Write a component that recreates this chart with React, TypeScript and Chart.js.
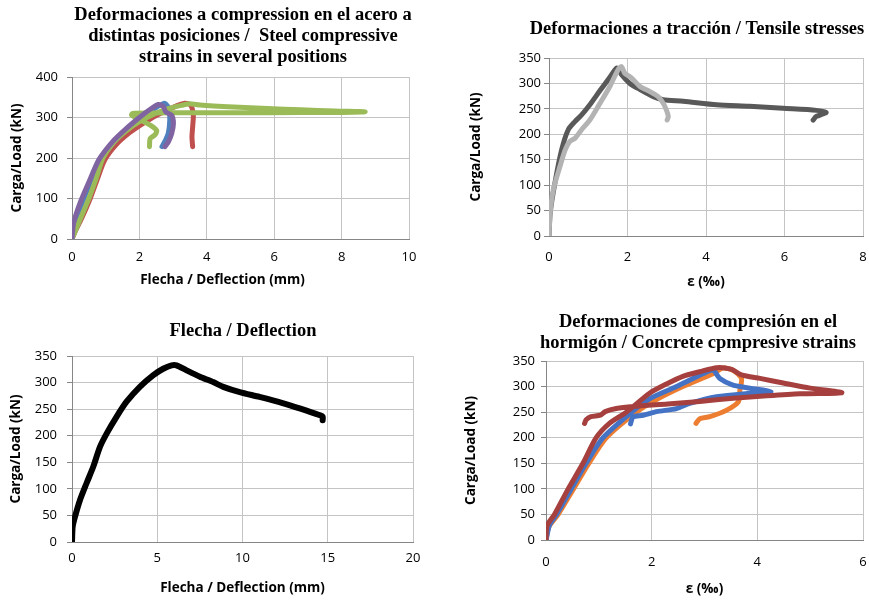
import React, { useEffect, useRef } from "react";
import { Chart, registerables } from "chart.js";

Chart.register(...registerables);

// ---------- Panel 1: steel compressive strains vs deflection ----------
const p1BlueX = [0, 0.05, 0.28, 0.55, 0.85, 1.25, 1.65, 2.05, 2.45, 2.75, 2.88, 2.9, 2.86, 2.78, 2.67];
const p1BlueY = [0, 35, 85, 140, 195, 240, 272, 300, 322, 335, 320, 292, 262, 245, 228];
const p1RedX = [0, 0.1, 0.28, 0.54, 0.76, 0.97, 1.3, 1.7, 2.1, 2.5, 3.0, 3.35, 3.52, 3.6, 3.58, 3.56, 3.58];
const p1RedY = [0, 20, 50, 100, 150, 195, 232, 262, 285, 305, 325, 335, 331, 306, 277, 252, 228];
const p1GreenX = [0, 0.1, 0.25, 0.5, 0.72, 0.92, 1.25, 1.62, 2.0, 2.4, 2.85, 3.3, 3.5, 3.8, 4.8, 5.8, 6.8, 7.8, 8.7, 7.8, 5.8, 3.8, 2.3, 1.8, 1.77, 2.02, 2.32, 2.51, 2.46, 2.32, 2.3];
const p1GreenY = [0, 20, 50, 100, 150, 200, 240, 268, 290, 307, 322, 331, 334, 331, 326, 322, 319, 316, 314, 312.5, 312, 312, 311, 310, 306, 294, 281, 268, 257, 248, 228];
const p1PurpleX = [0, 0.05, 0.24, 0.5, 0.8, 1.2, 1.6, 2.0, 2.3, 2.56, 2.71, 2.78, 2.96, 3.01, 2.96, 2.86, 2.76];
const p1PurpleY = [0, 40, 89, 140, 196, 240, 272, 300, 319, 332, 327, 314, 305, 285, 261, 240, 228];

// ---------- Panel 2: tensile strains ----------
const p2DarkX = [0, 0.03, 0.15, 0.32, 0.49, 0.66, 0.83, 1.04, 1.3, 1.55, 1.72, 1.78, 1.85, 2.06, 2.32, 2.66, 2.91, 3.42, 4.27, 5.11, 5.96, 6.81, 7.06, 6.98, 6.81, 6.73];
const p2DarkY = [0, 45, 104, 169, 209, 225, 238, 258, 286, 312, 330, 327, 317, 300, 288, 274, 268, 265, 258, 255, 251, 247, 243, 240, 235, 228];
const p2LightX = [0, 0.03, 0.11, 0.28, 0.41, 0.53, 0.66, 0.83, 1.04, 1.3, 1.55, 1.76, 1.85, 1.93, 2.1, 2.32, 2.57, 2.78, 2.91, 2.99, 3.04, 3.01];
const p2LightY = [0, 45, 91, 137, 169, 186, 192, 209, 228, 261, 294, 327, 333, 320, 311, 294, 284, 274, 261, 248, 235, 228];

// ---------- Panel 3: deflection ----------
const p3X = [0, 0.04, 0.18, 0.47, 0.86, 1.25, 1.64, 2.03, 2.62, 3.2, 3.98, 4.77, 5.35, 5.84, 6.13, 6.72, 7.5, 8.28, 8.87, 9.84, 11.0, 12.4, 13.4, 14.5, 14.7, 14.7];
const p3Y = [0, 29, 48, 79, 111, 142, 179, 204, 236, 264, 292, 314, 326, 332.5, 332.5, 323, 311, 301, 292, 282, 273, 261, 251, 239, 236, 229];

// ---------- Panel 4: concrete compressive strains ----------
const p4RedX = [0, 0.02, 0.16, 0.42, 0.7, 0.95, 1.2, 1.52, 1.96, 2.28, 2.59, 2.91, 3.23, 3.5, 3.7, 4.05, 4.49, 5.0, 5.6, 4.81, 4.18, 3.54, 2.91, 2.3, 1.65, 1.33, 1.12, 1.03, 0.85, 0.76, 0.73];
const p4RedY = [0, 28, 50, 100, 150, 200, 228, 250, 287, 305, 320, 329, 337, 334, 323, 316, 307, 297, 288, 286, 282, 277, 271, 266, 261, 257, 251, 244, 241, 235, 228];
const p4BlueX = [0, 0.07, 0.2, 0.48, 0.76, 1.08, 1.62, 1.96, 2.47, 2.97, 3.16, 3.29, 3.54, 3.86, 4.26, 3.86, 3.23, 2.72, 2.47, 2.09, 1.84, 1.65, 1.62, 1.6];
const p4BlueY = [0, 30, 50, 100, 150, 200, 250, 276, 300, 325, 332, 316, 303, 297, 290, 287, 280, 267, 257, 251, 244, 241, 235, 227];
const p4OrangeX = [0, 0.05, 0.23, 0.52, 0.81, 1.14, 1.71, 2.1, 2.59, 3.16, 3.35, 3.54, 3.7, 3.67, 3.64, 3.42, 3.1, 2.91, 2.84];
const p4OrangeY = [0, 25, 50, 100, 150, 200, 250, 275, 300, 325, 336, 332, 316, 293, 270, 254, 241, 237, 228];

// ---------- Texts ----------
const title1 = ["Deformaciones a compression en el acero a", "distintas posiciones /  Steel compressive", "strains in several positions"];
const title2 = ["Deformaciones a tracción / Tensile stresses"];
const title3 = ["Flecha / Deflection"];
const title4 = ["Deformaciones de compresión en el", "hormigón / Concrete cpmpresive strains"];
const yLabel = "Carga/Load (kN)";
const xLabelDefl = "Flecha / Deflection (mm)";
const xLabelStrain = "ε (‰)";

type Series = { xs: number[]; ys: number[]; color: string; width: number };

const toPoints = (xs: number[], ys: number[]) => xs.map((x, i) => ({ x, y: ys[i] }));

const headline = {
  id: "headline",
  afterDraw(chart: any, _args: any, opts: any) {
    if (!opts || !opts.lines) return;
    const ctx = chart.ctx;
    ctx.save();
    ctx.font = opts.font;
    ctx.fillStyle = "#000";
    ctx.textAlign = "center";
    ctx.textBaseline = "middle";
    opts.lines.forEach((l: string, i: number) => ctx.fillText(l, opts.x, opts.y + i * opts.gap));
    ctx.restore();
  },
};

interface PanelProps {
  left: number;
  top: number;
  width: number;
  height: number;
  title: string[];
  titleX: number;
  titleY: number;
  titleGap: number;
  series: Series[];
  xMax: number;
  xStep: number;
  yMax: number;
  yStep: number;
  xLabel: string;
  area: { l: number; t: number; r: number; b: number };
  yTitleCenter: number;
  xTitleCenter: number;
  xTitleDx: number;
  yTickPad: number;
  xTickPad: number;
}

const GRID = "#c4c4c4";
const AXIS = "#868686";
const TICK_FONT = { family: "'Open Sans'", size: 13 };
const AXIS_TITLE_FONT = { family: "'Open Sans'", size: 13.5, weight: "bold" as const, lineHeight: 1.2 };
const HALF_TITLE = 8.1;

function Panel(p: PanelProps) {
  const ref = useRef<HTMLCanvasElement | null>(null);
  useEffect(() => {
    if (!ref.current) return;
    const chart = new Chart(ref.current, {
      type: "scatter",
      data: {
        datasets: p.series.map((s) => ({
          data: toPoints(s.xs, s.ys),
          showLine: true,
          borderColor: s.color,
          backgroundColor: s.color,
          borderWidth: s.width,
          pointRadius: 0,
          pointHoverRadius: 0,
          tension: 0.25,
          borderCapStyle: "round" as const,
          borderJoinStyle: "round" as const,
        })),
      },
      options: {
        animation: false,
        responsive: false,
        devicePixelRatio: 1,
        events: [],
        layout: { padding: { left: 0, top: p.area.t, right: p.width - p.area.r, bottom: 0 } },
        plugins: {
          legend: { display: false },
          tooltip: { enabled: false },
          title: { display: false },
          // @ts-ignore
          headline: {
            lines: p.title,
            x: p.titleX,
            y: p.titleY,
            gap: p.titleGap,
            font: "bold 18.5px 'Liberation Serif'",
          },
        },
        scales: {
          x: {
            type: "linear",
            min: 0,
            max: p.xMax,
            ticks: { stepSize: p.xStep, font: TICK_FONT, color: "#000", padding: p.xTickPad, maxRotation: 0 },
            grid: { color: GRID, drawTicks: false, lineWidth: 1 },
            border: { color: AXIS, width: 1 },
            title: {
              display: true,
              text: p.xLabel,
              color: "#000",
              font: AXIS_TITLE_FONT,
              padding: { top: 0, bottom: p.height - p.xTitleCenter - HALF_TITLE },
            },
            afterFit: (s: any) => {
              s.height = p.height - p.area.b;
              s.paddingLeft = 0;
              s.paddingRight = 0;
            },
          },
          y: {
            type: "linear",
            min: 0,
            max: p.yMax,
            ticks: { stepSize: p.yStep, font: TICK_FONT, color: "#000", padding: p.yTickPad },
            grid: { color: GRID, drawTicks: true, tickLength: 5, tickColor: AXIS, lineWidth: 1 },
            border: { color: AXIS, width: 1 },
            title: {
              display: true,
              text: yLabel,
              color: "#000",
              font: AXIS_TITLE_FONT,
              padding: { top: p.yTitleCenter - HALF_TITLE, bottom: 0 },
            },
            afterFit: (s: any) => {
              s.width = p.area.l;
            },
          },
        },
      },
      plugins: [
        headline,
        {
          id: "xTitleShift",
          afterLayout(chart: any) {
            // nudge the x-axis title horizontally where the reference places it off-centre
            if (p.xTitleDx) {
              const s = chart.scales.x;
              const orig = s.drawTitle.bind(s);
              s.drawTitle = () => {
                const ctx = chart.ctx;
                ctx.save();
                ctx.translate(p.xTitleDx, 0);
                orig();
                ctx.restore();
              };
            }
          },
        },
      ],
    });
    return () => chart.destroy();
  }, []);
  return (
    <canvas
      ref={ref}
      width={p.width}
      height={p.height}
      style={{ position: "absolute", left: p.left, top: p.top, width: p.width, height: p.height }}
    />
  );
}

export default function App() {
  return (
    <div style={{ position: "absolute", left: 0, top: 0, width: 869, height: 600, background: "#fff", overflow: "hidden" }}>
      <Panel
        left={0}
        top={0}
        width={435}
        height={300}
        title={title1}
        titleX={243}
        titleY={15}
        titleGap={21}
        series={[
          { xs: p1PurpleX, ys: p1PurpleY, color: "#8064A2", width: 5 },
          { xs: p1GreenX, ys: p1GreenY, color: "#9BBB59", width: 5 },
          { xs: p1BlueX, ys: p1BlueY, color: "#4F81BD", width: 5 },
          { xs: p1RedX, ys: p1RedY, color: "#C0504D", width: 5 },
        ]}
        xMax={10}
        xStep={2}
        yMax={400}
        yStep={100}
        xLabel={xLabelDefl}
        area={{ l: 72, t: 77, r: 409, b: 239 }}
        yTitleCenter={17.5}
        xTitleCenter={280}
        xTitleDx={-18}
        yTickPad={9}
        xTickPad={10}
      />
      <Panel
        left={440}
        top={0}
        width={429}
        height={300}
        title={title2}
        titleX={257}
        titleY={29}
        titleGap={21}
        series={[
          { xs: p2LightX, ys: p2LightY, color: "#B3B3B3", width: 5 },
          { xs: p2DarkX, ys: p2DarkY, color: "#595959", width: 5 },
        ]}
        xMax={8}
        xStep={2}
        yMax={350}
        yStep={50}
        xLabel={xLabelStrain}
        area={{ l: 109, t: 58, r: 423, b: 236 }}
        yTitleCenter={36}
        xTitleCenter={282}
        xTitleDx={0}
        yTickPad={3}
        xTickPad={13}
      />
      <Panel
        left={0}
        top={300}
        width={435}
        height={300}
        title={title3}
        titleX={243}
        titleY={31}
        titleGap={21}
        series={[{ xs: p3X, ys: p3Y, color: "#000000", width: 6 }]}
        xMax={20}
        xStep={5}
        yMax={350}
        yStep={50}
        xLabel={xLabelDefl}
        area={{ l: 72, t: 56, r: 413, b: 242 }}
        yTitleCenter={16}
        xTitleCenter={288}
        xTitleDx={0}
        yTickPad={10}
        xTickPad={8}
      />
      <Panel
        left={440}
        top={300}
        width={429}
        height={300}
        title={title4}
        titleX={258}
        titleY={22}
        titleGap={21}
        series={[
          { xs: p4RedX, ys: p4RedY, color: "#A5403F", width: 5 },
          { xs: p4BlueX, ys: p4BlueY, color: "#4472C4", width: 5 },
          { xs: p4OrangeX, ys: p4OrangeY, color: "#ED7D31", width: 5 },
        ]}
        xMax={6}
        xStep={2}
        yMax={350}
        yStep={50}
        xLabel={xLabelStrain}
        area={{ l: 106, t: 61, r: 423, b: 240 }}
        yTitleCenter={31}
        xTitleCenter={289}
        xTitleDx={0}
        yTickPad={6}
        xTickPad={14}
      />
    </div>
  );
}
